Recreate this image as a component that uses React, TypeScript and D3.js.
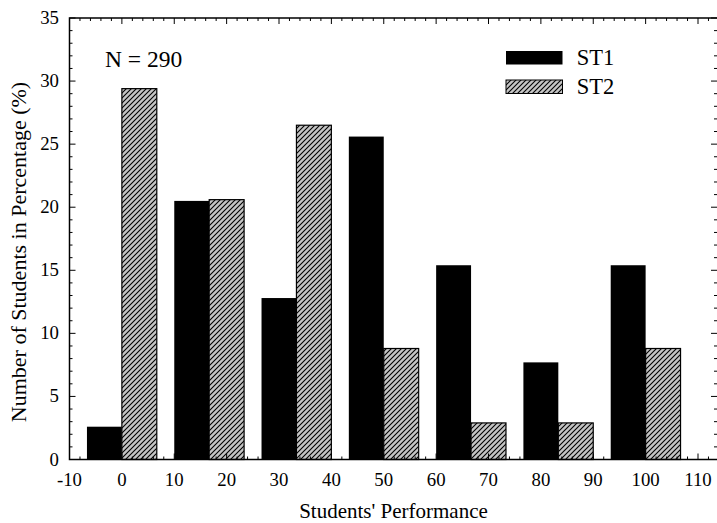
import React from "react";
import * as d3 from "d3";

// group centres on the performance axis
const performance = [0, 16.67, 33.33, 50, 66.67, 83.33, 100];
const st1 = [2.6, 20.5, 12.8, 25.6, 15.4, 7.7, 15.4];
const st2 = [29.4, 20.6, 26.5, 8.8, 2.9, 2.9, 8.8];
const xTicks = [-10, 0, 10, 20, 30, 40, 50, 60, 70, 80, 90, 100, 110];
const yTicks = [0, 5, 10, 15, 20, 25, 30, 35];
const seriesNames = ["ST1", "ST2"];

const W = 717;
const H = 523;
const FONT = `"Liberation Serif", "Times New Roman", serif`;

const App = () => {
  const left = 69.5;
  const right = 718;
  const top = 18;
  const bottom = 459.5;

  const x = d3.scaleLinear().domain([-10, 110]).range([left, 698]);
  const y = d3.scaleLinear().domain([0, 35]).range([bottom, top]);
  const barW = 100 / 15;

  const xMinor = d3.range(-10, 114, 2);
  const yMinor = d3.range(0, 36, 1);
  const txt = { fontFamily: FONT };

  return (
    <svg
      width={W}
      height={H}
      style={{ position: "absolute", left: 0, top: 0, background: "#fff" }}
    >
      <defs>
        <pattern id="hatch" patternUnits="userSpaceOnUse" width="5" height="5">
          <rect width="5" height="5" fill="#c4c4c4" />
          <path d="M0,5 L5,0 M-1,1 L1,-1 M4,6 L6,4" stroke="#000" strokeWidth="1.1" />
        </pattern>
      </defs>

      {/* bars */}
      {performance.map((p, i) => (
        <g key={i}>
          <rect
            x={x(p - barW)}
            y={y(st1[i])}
            width={x(p) - x(p - barW)}
            height={y(0) - y(st1[i])}
            fill="#000"
          />
          <rect
            x={x(p)}
            y={y(st2[i])}
            width={x(p + barW) - x(p)}
            height={y(0) - y(st2[i])}
            fill="url(#hatch)"
            stroke="#000"
            strokeWidth={1.2}
          />
        </g>
      ))}

      {/* frame */}
      <rect
        x={left}
        y={top}
        width={right - left}
        height={bottom - top}
        fill="none"
        stroke="#000"
        strokeWidth={1.5}
      />

      {/* ticks */}
      {xMinor.map((t) => {
        const len = t % 10 === 0 ? 6 : 3;
        return (
          <g key={"x" + t}>
            <line x1={x(t)} x2={x(t)} y1={bottom} y2={bottom - len} stroke="#000" strokeWidth={1} />
            <line x1={x(t)} x2={x(t)} y1={top} y2={top + len} stroke="#000" strokeWidth={1} />
          </g>
        );
      })}
      {yMinor.map((t) => {
        const len = t % 5 === 0 ? 6 : 3;
        return (
          <g key={"y" + t}>
            <line x1={left} x2={left + len} y1={y(t)} y2={y(t)} stroke="#000" strokeWidth={1} />
            <line x1={717} x2={717 - len} y1={y(t)} y2={y(t)} stroke="#000" strokeWidth={1} />
          </g>
        );
      })}

      {/* tick labels */}
      {xTicks.map((t) => (
        <text key={"xl" + t} x={x(t)} y={485.5} textAnchor="middle" fontSize={18.8} style={txt}>
          {t}
        </text>
      ))}
      {yTicks.map((t) => (
        <text key={"yl" + t} x={59} y={y(t) + 6} textAnchor="end" fontSize={18.8} style={txt}>
          {t}
        </text>
      ))}

      {/* axis titles */}
      <text x={393.5} y={518} textAnchor="middle" fontSize={21} style={txt}>
        Students' Performance
      </text>
      <text
        transform={`translate(26,252) rotate(-90)`}
        textAnchor="middle"
        fontSize={22}
        style={txt}
      >
        Number of Students in Percentage (%)
      </text>

      {/* annotation */}
      <text x={105} y={66.5} fontSize={23.5} style={txt}>
        N = 290
      </text>

      {/* legend */}
      {seriesNames.map((name, i) => (
        <g key={name} transform={`translate(506,${51 + i * 29})`}>
          <rect
            width={56.5}
            height={13.5}
            fill={i === 0 ? "#000" : "url(#hatch)"}
            stroke="#000"
            strokeWidth={i === 0 ? 0 : 1}
          />
          <text x={70.7} y={14} fontSize={22.5} style={txt}>
            {name}
          </text>
        </g>
      ))}
    </svg>
  );
};

export default App;
